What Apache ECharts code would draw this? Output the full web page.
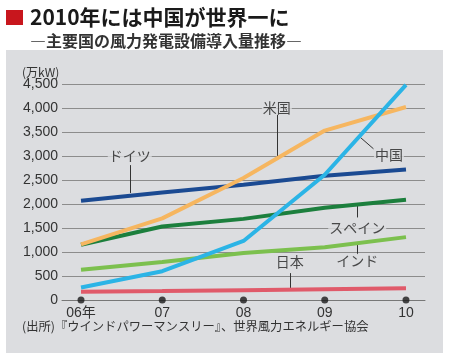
<!DOCTYPE html>
<html><head><meta charset="utf-8">
<script src="https://cdn.jsdelivr.net/npm/echarts@6/dist/echarts.min.js"></script>
<style>html,body{margin:0;padding:0;background:#fff}#c{width:450px;height:360px}</style>
</head><body><div id="c"></div>
<script>
const years = ['06年', '07', '08', '09', '10'];
const germany = [2070, 2240, 2400, 2590, 2720];
const usa = [1160, 1700, 2540, 3530, 4020];
const china = [260, 600, 1230, 2610, 4480];
const spain = [1150, 1530, 1690, 1920, 2090];
const india = [630, 790, 980, 1100, 1310];
const japan = [170, 185, 205, 225, 245];
const yTicks = [0, 500, 1000, 1500, 2000, 2500, 3000, 3500, 4000, 4500];

// annotation labels: [name, labelX, labelY, leaderFrom, leaderTo]
const notes = [
  ['ドイツ', 0.60, 3000, [0.60, 2810], [0.60, 2230]],
  ['米国', 2.41, 4000, [2.41, 3870], [2.41, 3000]],
  ['中国', 3.79, 3020, [3.60, 3150], [3.43, 3400]],
  ['スペイン', 3.40, 1500, [3.40, 1720], [3.40, 1990]],
  ['インド', 3.40, 820, [3.40, 950], [3.40, 1200]],
  ['日本', 2.57, 800, [2.57, 560], [2.57, 250]]
];

const JP = '"Noto Sans CJK JP", sans-serif';
const chart = echarts.init(document.getElementById('c'), null, {renderer: 'canvas'});
const pts = a => a.map((v, i) => [i, v]);
const lineSeries = (name, data, color, z) => ({
  name, type: 'line', data: pts(data), symbol: 'none', smooth: false,
  lineStyle: {width: 4, color}, z
});

chart.setOption({
  backgroundColor: '#ffffff',
  animation: false,
  graphic: [
    {type: 'rect', z: -100, shape: {x: 6, y: 50, width: 437, height: 303}, style: {fill: '#dcdde0'}},
    {type: 'rect', shape: {x: 6, y: 10, width: 17, height: 15}, style: {fill: '#c8161d'}},
    {type: 'text', x: 30, y: 17, style: {text: '2010年には中国が世界一に', font: 'bold 21px ' + JP, fill: '#1a1a1a', textVerticalAlign: 'middle'}},
    {type: 'text', x: 30, y: 41, style: {text: '―主要国の風力発電設備導入量推移―', font: 'bold 16px ' + JP, fill: '#333', textVerticalAlign: 'middle'}},
    {type: 'text', x: 22, y: 72, style: {text: '(万kW)', font: '12px ' + JP, fill: '#333', textVerticalAlign: 'middle'}},
    {type: 'text', x: 22, y: 326, style: {text: '(出所)『ウインドパワーマンスリー』、世界風力エネルギー協会', font: '12.3px ' + JP, fill: '#333', textVerticalAlign: 'middle'}}
  ],
  grid: {left: 62, right: 25, top: 84, bottom: 60},
  xAxis: {
    type: 'value', min: -0.234, max: 4.234,
    axisLine: {show: true, lineStyle: {color: '#777', width: 1}},
    axisTick: {show: false},
    splitLine: {show: false},
    axisLabel: {customValues: [0, 1, 2, 3, 4], formatter: v => years[Math.round(v)], fontSize: 14, color: '#333', margin: 6, fontFamily: 'Liberation Sans, Arial, ' + JP}
  },
  yAxis: {
    type: 'value', min: 0, max: 4500, interval: 500,
    axisLine: {show: false}, axisTick: {show: false},
    splitLine: {lineStyle: {color: '#8c8c8c', width: 1}},
    axisLabel: {fontSize: 14, color: '#333', margin: 4, fontFamily: 'Liberation Sans, Arial', formatter: v => v.toLocaleString('en-US')}
  },
  series: [
    lineSeries('日本', japan, '#e05a6a', 3),
    lineSeries('インド', india, '#7cc04e', 4),
    lineSeries('スペイン', spain, '#1c7f3d', 5),
    lineSeries('ドイツ', germany, '#1b4a92', 6),
    lineSeries('米国', usa, '#f6b660', 7),
    lineSeries('中国', china, '#2bb4e6', 8),
    {type: 'scatter', data: years.map((y, i) => [i, 0]), symbolSize: 7, itemStyle: {color: '#1a1a1a'}, z: 9, silent: true},
    {type: 'lines', coordinateSystem: 'cartesian2d', polyline: false, z: 2,
      lineStyle: {color: '#333', width: 1, opacity: 1},
      data: notes.map(n => ({coords: [n[3], n[4]]}))},
    {type: 'scatter', symbolSize: 0, z: 10,
      data: notes.map(n => ({value: [n[1], n[2]], name: n[0]})),
      label: {show: true, position: 'inside', formatter: p => p.name, fontSize: 14, color: '#222', fontFamily: JP, backgroundColor: '#dcdde0', padding: [0, 1]}}
  ]
});
</script></body></html>
